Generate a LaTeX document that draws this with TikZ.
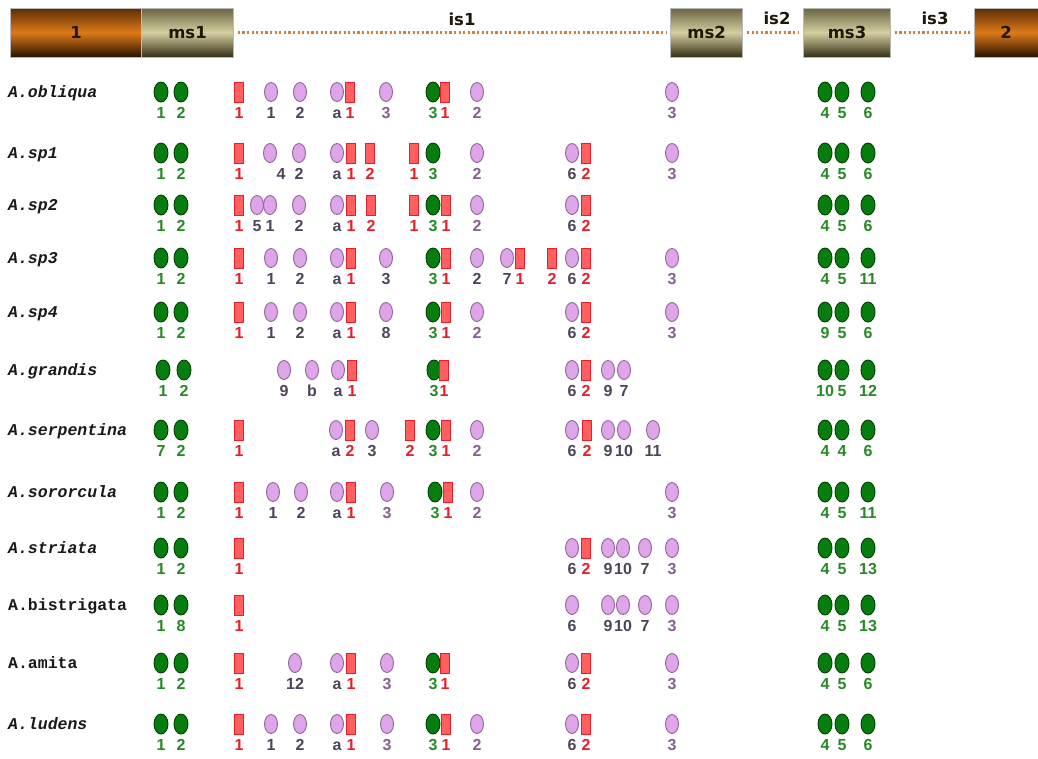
\documentclass[tikz,border=0pt]{standalone}
\usepackage{fontspec}
\setmainfont{Liberation Sans}
\newfontfamily\namefont{Liberation Mono}
\newfontfamily\hdrfont{DejaVu Sans}
\usetikzlibrary{shapes.geometric}
\definecolor{gfill}{RGB}{8,125,15}
\definecolor{gdraw}{RGB}{0,65,0}
\definecolor{glabc}{RGB}{38,138,38}
\definecolor{pfill}{RGB}{222,165,232}
\definecolor{pdraw}{RGB}{145,100,155}
\definecolor{pd}{RGB}{80,68,90}
\definecolor{pm}{RGB}{135,95,145}
\definecolor{rfill}{RGB}{255,95,95}
\definecolor{rdraw}{RGB}{232,30,40}
\definecolor{rlabc}{RGB}{232,30,40}
\definecolor{namec}{RGB}{25,25,25}
\definecolor{brTop}{RGB}{90,45,6}
\definecolor{brMid}{RGB}{222,122,24}
\definecolor{brBot}{RGB}{40,18,0}
\definecolor{msTop}{RGB}{105,100,66}
\definecolor{msMid}{RGB}{212,206,160}
\definecolor{msBot}{RGB}{52,47,24}
\definecolor{dotc}{RGB}{212,125,55}
\definecolor{hdrc}{RGB}{30,24,8}
\tikzset{
  g/.style={ellipse, draw=gdraw, fill=gfill, line width=0.9pt, minimum width=14pt, minimum height=20pt, inner sep=0pt},
  p/.style={ellipse, draw=pdraw, fill=pfill, line width=0.9pt, minimum width=13pt, minimum height=19pt, inner sep=0pt},
  q/.style={p},
  pf/.style={p},
  r/.style={rectangle, draw=rdraw, fill=rfill, line width=0.9pt, minimum width=9pt, minimum height=20pt, inner sep=0pt},
  lab/.style={font=\bfseries\fontsize{16}{18}\selectfont, inner sep=0pt},
  glab/.style={lab, text=glabc},
  plab/.style={lab, text=pd},
  qlab/.style={lab, text=pm},
  pflab/.style={plab, xshift=11pt},
  rlab/.style={lab, text=rlabc},
  nm/.style={font=\namefont\bfseries\fontsize{16.5}{18}\selectfont, inner sep=0pt, text=namec},
  hdr/.style={font=\hdrfont\bfseries\fontsize{16.5}{20}\selectfont, text=hdrc, inner sep=0pt},
  brbox/.style={hdr, draw=gray!55, line width=0.5pt, top color=brTop, bottom color=brBot, middle color=brMid, minimum height=49pt},
  msbox/.style={hdr, draw=gray!55, line width=0.5pt, top color=msTop, bottom color=msBot, middle color=msMid, minimum height=49pt},
  dotline/.style={draw=dotc, line width=2.6pt, dash pattern=on 2.2pt off 2.4pt, shorten <=4pt, shorten >=4pt},
}
\newcommand\mrow[4]{%
  \node[nm, anchor=base west] (name#1) at (8,#2+5) {#3};
  \foreach \ty/\xx/\lb [count=\i] in {#4} {
    \node[\ty] (s#1-\i) at (\xx,#2) {};
    \node[\ty lab, anchor=base] (l#1-\i) at (\xx,#2+26) {\lb};
  }%
}
\begin{document}
\begin{tikzpicture}[x=1pt,y=-1pt]
\useasboundingbox (0,0) rectangle (1038,758);
\fill[white] (0,0) rectangle (1038,758);
% header
\node[brbox, minimum width=131pt] (b1) at (76,32.5) {1};
\node[msbox, minimum width=92pt] (ms1) at (187.5,32.5) {ms1};
\node[msbox, minimum width=72pt] (ms2) at (706.7,32.5) {ms2};
\node[msbox, minimum width=87pt] (ms3) at (847,32.5) {ms3};
\node[brbox, minimum width=64pt] (b2) at (1006,32.5) {2};
\draw[dotline] (ms1.east) -- (ms2.west);
\draw[dotline] (ms2.east) -- (ms3.west);
\draw[dotline] (ms3.east) -- (b2.west);
\node[hdr] (is1) at (462,19) {is1};
\node[hdr] (is2) at (777,18) {is2};
\node[hdr] (is3) at (935,18) {is3};
% rows
\mrow{1}{92}{\itshape A.obliqua}{g/161/1, g/181/2, r/239/1, p/271/1, p/300/2, p/337/a, r/350/1, q/386/3, g/433/3, r/445/1, q/477/2, q/672/3, g/825/4, g/842/5, g/868/6}
\mrow{2}{153}{\itshape A.sp1}{g/161/1, g/181/2, r/239/1, pf/270/4, p/299/2, p/337/a, r/351/1, r/370/2, r/414/1, g/433/3, q/477/2, p/572/6, r/586/2, q/672/3, g/825/4, g/842/5, g/868/6}
\mrow{3}{205}{\itshape A.sp2}{g/161/1, g/181/2, r/239/1, p/257/5, p/270/1, p/299/2, p/337/a, r/351/1, r/371/2, r/414/1, g/433/3, r/446/1, q/477/2, p/572/6, r/586/2, g/825/4, g/842/5, g/868/6}
\mrow{4}{258}{\itshape A.sp3}{g/161/1, g/181/2, r/239/1, p/271/1, p/300/2, p/337/a, r/351/1, p/386/3, g/433/3, r/446/1, p/477/2, p/507/7, r/520/1, r/552/2, p/572/6, r/586/2, q/672/3, g/825/4, g/842/5, g/868/11}
\mrow{5}{312}{\itshape A.sp4}{g/161/1, g/181/2, r/239/1, p/271/1, p/300/2, p/337/a, r/351/1, p/386/8, g/433/3, r/446/1, q/477/2, p/572/6, r/586/2, q/672/3, g/825/9, g/842/5, g/868/6}
\mrow{6}{370}{\itshape A.grandis}{g/163/1, g/184/2, p/284/9, p/312/b, p/338/a, r/352/1, g/434/3, r/444/1, p/572/6, r/586/2, p/608/9, p/624/7, g/825/10, g/842/5, g/868/12}
\mrow{7}{430}{\itshape A.serpentina}{g/161/7, g/181/2, r/239/1, p/336/a, r/350/2, p/372/3, r/410/2, g/433/3, r/446/1, q/477/2, p/572/6, r/587/2, p/608/9, p/624/10, p/653/11, g/825/4, g/842/4, g/868/6}
\mrow{8}{492}{\itshape A.sororcula}{g/161/1, g/181/2, r/239/1, p/273/1, p/301/2, p/337/a, r/351/1, q/387/3, g/435/3, r/448/1, q/477/2, q/672/3, g/825/4, g/842/5, g/868/11}
\mrow{9}{548}{\itshape A.striata}{g/161/1, g/181/2, r/239/1, p/572/6, r/586/2, p/608/9, p/623/10, p/645/7, q/672/3, g/825/4, g/842/5, g/868/13}
\mrow{10}{605}{A.bistrigata}{g/161/1, g/181/8, r/239/1, p/572/6, p/608/9, p/623/10, p/645/7, q/672/3, g/825/4, g/842/5, g/868/13}
\mrow{11}{663}{A.amita}{g/161/1, g/181/2, r/239/1, p/295/12, p/337/a, r/351/1, q/387/3, g/433/3, r/445/1, p/572/6, r/586/2, q/672/3, g/825/4, g/842/5, g/868/6}
\mrow{12}{724}{\itshape A.ludens}{g/161/1, g/181/2, r/239/1, p/271/1, p/300/2, p/337/a, r/351/1, q/387/3, g/433/3, r/446/1, q/477/2, p/572/6, r/586/2, q/672/3, g/825/4, g/842/5, g/868/6}
\end{tikzpicture}
\end{document}
